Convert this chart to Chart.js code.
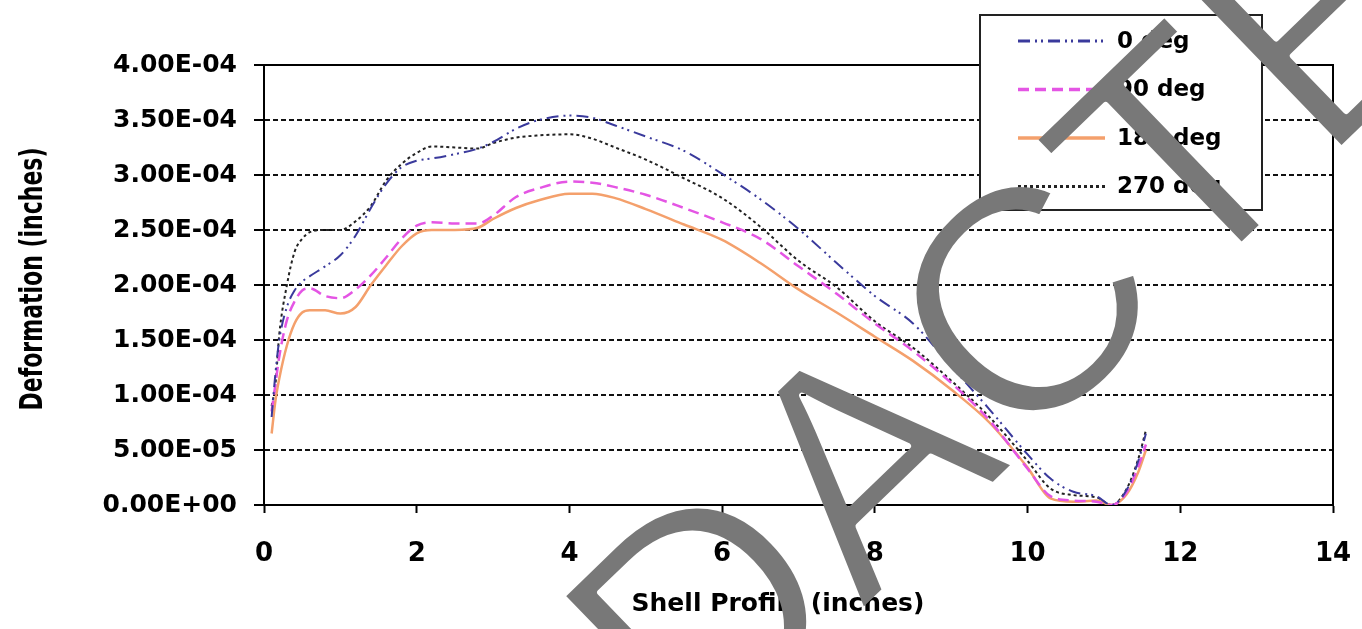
<!DOCTYPE html>
<html>
<head>
<meta charset="utf-8">
<script src="https://cdn.jsdelivr.net/npm/chart.js"></script>
<style>
  body { margin: 0; background: #fff; }
  #chart { display: block; }
</style>
</head>
<body>
<canvas id="chart" width="1362" height="629"></canvas>
<script>
  // shell profile position (inches)
  var profile = [0.1, 0.15, 0.2, 0.3, 0.4, 0.5, 0.6, 0.8, 1.0, 1.2, 1.4, 1.6, 1.8, 2.0, 2.2, 2.5, 2.8, 3.0, 3.3, 3.6,
                 4.0, 4.3, 4.6, 5.0, 5.5, 6.0, 6.5, 7.0, 7.5, 8.0, 8.5, 9.0, 9.5, 10.0, 10.3, 10.6, 10.9, 11.1, 11.3, 11.45, 11.55];

  // deformation (inches) for each angle
  var def0 = [0.80e-4, 1.20e-4, 1.50e-4, 1.80e-4, 1.95e-4, 2.03e-4, 2.08e-4, 2.17e-4, 2.27e-4, 2.45e-4, 2.70e-4, 2.92e-4, 3.07e-4, 3.13e-4, 3.15e-4, 3.19e-4, 3.24e-4, 3.30e-4, 3.42e-4, 3.50e-4,
              3.54e-4, 3.52e-4, 3.45e-4, 3.35e-4, 3.22e-4, 3.01e-4, 2.78e-4, 2.51e-4, 2.20e-4, 1.90e-4, 1.65e-4, 1.26e-4, 0.87e-4, 0.46e-4, 0.24e-4, 0.12e-4, 0.08e-4, 0.0, 0.14e-4, 0.40e-4, 0.65e-4];
  var def90 = [0.85e-4, 1.10e-4, 1.35e-4, 1.68e-4, 1.85e-4, 1.95e-4, 1.97e-4, 1.90e-4, 1.88e-4, 1.96e-4, 2.09e-4, 2.25e-4, 2.42e-4, 2.54e-4, 2.57e-4, 2.56e-4, 2.56e-4, 2.63e-4, 2.80e-4, 2.88e-4,
               2.94e-4, 2.93e-4, 2.89e-4, 2.82e-4, 2.70e-4, 2.57e-4, 2.42e-4, 2.17e-4, 1.92e-4, 1.65e-4, 1.40e-4, 1.11e-4, 0.77e-4, 0.33e-4, 0.08e-4, 0.04e-4, 0.03e-4, 0.0, 0.12e-4, 0.35e-4, 0.55e-4];
  var def180 = [0.65e-4, 0.95e-4, 1.15e-4, 1.45e-4, 1.65e-4, 1.75e-4, 1.77e-4, 1.77e-4, 1.74e-4, 1.80e-4, 2.00e-4, 2.18e-4, 2.35e-4, 2.47e-4, 2.50e-4, 2.50e-4, 2.52e-4, 2.60e-4, 2.70e-4, 2.77e-4,
                2.83e-4, 2.83e-4, 2.79e-4, 2.69e-4, 2.55e-4, 2.41e-4, 2.20e-4, 1.96e-4, 1.75e-4, 1.53e-4, 1.31e-4, 1.05e-4, 0.75e-4, 0.34e-4, 0.06e-4, 0.03e-4, 0.04e-4, 0.0, 0.10e-4, 0.30e-4, 0.50e-4];
  var def270 = [0.90e-4, 1.10e-4, 1.55e-4, 2.00e-4, 2.30e-4, 2.42e-4, 2.48e-4, 2.50e-4, 2.50e-4, 2.58e-4, 2.72e-4, 2.95e-4, 3.10e-4, 3.20e-4, 3.26e-4, 3.25e-4, 3.24e-4, 3.29e-4, 3.34e-4, 3.36e-4,
                3.37e-4, 3.33e-4, 3.25e-4, 3.14e-4, 2.97e-4, 2.79e-4, 2.53e-4, 2.22e-4, 1.98e-4, 1.67e-4, 1.43e-4, 1.13e-4, 0.80e-4, 0.40e-4, 0.15e-4, 0.09e-4, 0.07e-4, 0.0, 0.15e-4, 0.42e-4, 0.68e-4];

  var seriesNames = ["0 deg", "90 deg", "180 deg", "270 deg"];
  var xMin = 0, xMax = 14, xStep = 2;
  var yMin = 0, yMax = 4e-4, yStep = 5e-5;
  var xTitle = "Shell Profile (inches)";
  var yTitle = "Deformation (inches)";
  var watermark = "REDACTED";

  var boldFont = '"DejaVu Sans", "Liberation Sans", Arial, sans-serif';

  function points(ys) {
    var out = [];
    for (var i = 0; i < profile.length; i++) {
      out.push({ x: profile[i], y: ys[i] });
    }
    return out;
  }

  // 4.00E-04 style labels
  function sci(v) {
    var parts = Number(v).toExponential(2).toUpperCase().split("E");
    var e = parseInt(parts[1], 10);
    var ae = Math.abs(e);
    return parts[0] + "E" + (e < 0 ? "-" : "+") + (ae < 10 ? "0" : "") + ae;
  }

  var frame = {
    id: 'frame',
    beforeDatasetsDraw: function (chart) {
      var a = chart.chartArea, ctx = chart.ctx;
      ctx.save();
      ctx.strokeStyle = '#000';
      ctx.lineWidth = 2;
      ctx.strokeRect(a.left, a.top, a.right - a.left, a.bottom - a.top);
      ctx.restore();
    }
  };

  var titles = {
    id: 'titles',
    afterDraw: function (chart) {
      var ctx = chart.ctx;
      ctx.save();
      ctx.fillStyle = '#000';
      ctx.textAlign = 'center';
      ctx.textBaseline = 'middle';
      ctx.font = 'bold 25px ' + boldFont;
      ctx.fillText(xTitle, 778, 604);
      ctx.translate(34, 279);
      ctx.scale(1.45, 1);
      ctx.rotate(-Math.PI / 2);
      ctx.font = 'bold 22px ' + boldFont;
      ctx.fillText(yTitle, 0, 0);
      ctx.restore();
    }
  };

  var boxLegend = {
    id: 'boxLegend',
    afterDatasetsDraw: function (chart) {
      var ctx = chart.ctx;
      ctx.save();
      ctx.fillStyle = '#fff';
      ctx.fillRect(980, 15, 282, 195);
      ctx.strokeStyle = '#222';
      ctx.lineWidth = 2;
      ctx.strokeRect(980, 15, 282, 195);
      ctx.font = 'bold 23px ' + boldFont;
      ctx.textBaseline = 'middle';
      chart.data.datasets.forEach(function (ds, i) {
        var y = 41 + i * 48.5;
        ctx.strokeStyle = ds.borderColor;
        ctx.lineWidth = ds.borderWidth + 1;
        ctx.setLineDash(ds.borderDash || []);
        ctx.beginPath();
        ctx.moveTo(1018, y);
        ctx.lineTo(1105, y);
        ctx.stroke();
        ctx.setLineDash([]);
        ctx.fillStyle = '#000';
        ctx.fillText(ds.label, 1117, y + 1);
      });
      ctx.restore();
    }
  };

  // grey diagonal stamp across the picture, "A" apex placed at (780, 373).
  // drawn on a scratch canvas first so the glyph strokes can be thinned a little
  var stamp = {
    id: 'stamp',
    afterDraw: function (chart) {
      var size = 320;
      var off = document.createElement('canvas');
      off.width = chart.width;
      off.height = chart.height;
      var o = off.getContext('2d');
      o.font = size + 'px "Liberation Sans", Arial, sans-serif';
      var lead = o.measureText("RED").width;
      o.translate(780, 373);
      o.rotate(-44 * Math.PI / 180);
      o.fillStyle = '#787878';
      o.fillText(watermark, -(lead + 0.334 * size), 0.716 * size);
      o.globalCompositeOperation = 'destination-out';
      o.lineWidth = 6;
      o.lineJoin = 'round';
      o.strokeText(watermark, -(lead + 0.334 * size), 0.716 * size);
      chart.ctx.drawImage(off, 0, 0);
    }
  };

  var ctx = document.getElementById('chart').getContext('2d');
  var chart = new Chart(ctx, {
    type: 'line',
    data: {
      datasets: [
        { label: seriesNames[0], data: points(def0), borderColor: '#3a3a9c', borderWidth: 2, borderDash: [12, 5, 2, 4, 2, 5] },
        { label: seriesNames[1], data: points(def90), borderColor: '#e455e4', borderWidth: 2.5, borderDash: [11, 6] },
        { label: seriesNames[2], data: points(def180), borderColor: '#f4a06c', borderWidth: 2.5 },
        { label: seriesNames[3], data: points(def270), borderColor: '#222', borderWidth: 2, borderDash: [3, 3] }
      ]
    },
    options: {
      responsive: false,
      animation: false,
      layout: { padding: { top: 65, right: 29, bottom: 0, left: 0 } },
      elements: {
        point: { radius: 0 },
        line: { tension: 0.4, cubicInterpolationMode: 'monotone', fill: false }
      },
      plugins: { legend: { display: false }, tooltip: { enabled: false } },
      scales: {
        x: {
          type: 'linear',
          min: xMin, max: xMax,
          afterFit: function (s) { s.height = 124; s.paddingLeft = 0; s.paddingRight = 0; },
          ticks: { stepSize: xStep, color: '#000', padding: 26, font: { family: boldFont, size: 26, weight: 'bold' } },
          grid: { drawOnChartArea: false, drawTicks: true, tickLength: 8, tickColor: '#000', tickWidth: 2 },
          border: { color: '#000', width: 2 }
        },
        y: {
          min: yMin, max: yMax,
          afterFit: function (s) { s.width = 264; s.paddingTop = 0; s.paddingBottom = 0; },
          ticks: { stepSize: yStep, color: '#000', padding: 17, font: { family: boldFont, size: 25, weight: 'bold' },
                   callback: function (v) { return sci(v); } },
          grid: { color: '#111', lineWidth: 2, tickBorderDash: [], tickLength: 10, tickColor: '#000', tickWidth: 2 },
          border: { color: '#000', width: 2, dash: [5, 3] }
        }
      }
    },
    plugins: [frame, boxLegend, titles, stamp]
  });
</script>
</body>
</html>
